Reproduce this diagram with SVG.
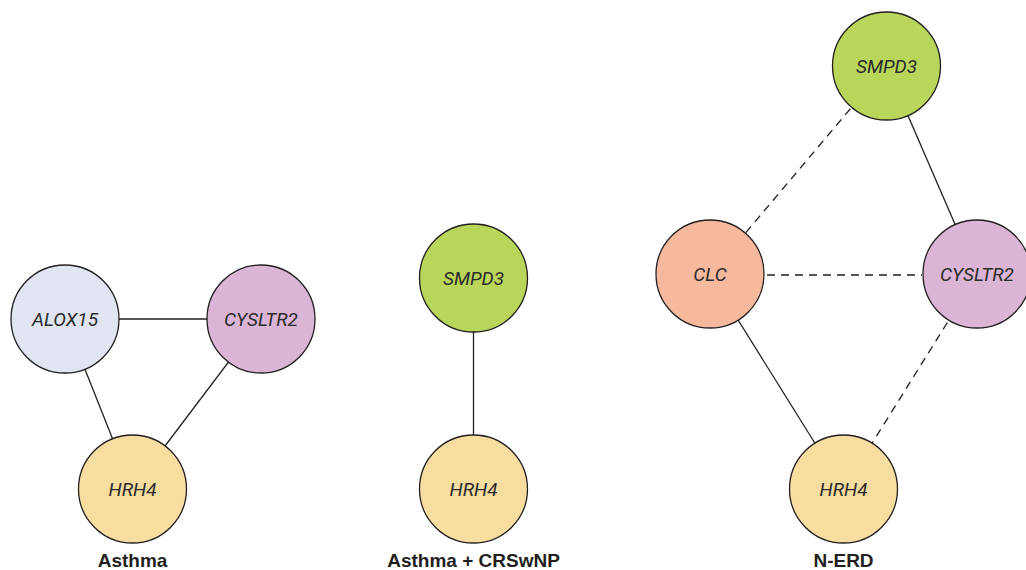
<svg xmlns="http://www.w3.org/2000/svg" width="1026" height="570" viewBox="0 0 1026 570">
<style>
.n{stroke:#231f20;stroke-width:1.3}
.t{font-family:Roboto,"Liberation Sans",Arial,sans-serif;font-style:italic;font-size:19px;fill:#2b2b2b;text-anchor:middle}
.lbl{font-family:"Liberation Sans",Arial,sans-serif;font-weight:bold;font-size:19px;fill:#231f20;text-anchor:middle}
.e{stroke:#231f20;stroke-width:1.3;fill:none}
.d{stroke-dasharray:8 6}
</style>
<rect width="1026" height="570" fill="#fff"/>
<g id="connectors">
<line class="e" x1="65" y1="319" x2="261" y2="319"/>
<line class="e" x1="65" y1="319" x2="132.5" y2="489"/>
<line class="e" x1="261" y1="319" x2="132.5" y2="489"/>
<line class="e" x1="473.5" y1="278" x2="473.5" y2="489"/>
<line class="e d" x1="886.5" y1="66" x2="710" y2="275"/>
<line class="e" x1="886.5" y1="66" x2="977" y2="275"/>
<line class="e d" x1="767" y1="275" x2="922" y2="275"/>
<line class="e" x1="710" y1="275" x2="843.5" y2="489"/>
<line class="e d" x1="977" y1="275" x2="843.5" y2="489"/>
</g>
<g id="asthma-alox15"><circle class="n" cx="65" cy="319" r="54" fill="#e1e5f1"/><text class="t" x="65" y="326">ALOX15</text></g>
<g id="asthma-cysltr2"><circle class="n" cx="261" cy="319" r="54" fill="#dab5d6"/><text class="t" x="261" y="326">CYSLTR2</text></g>
<g id="asthma-hrh4"><circle class="n" cx="132.5" cy="489" r="54" fill="#f7dd9f"/><text class="t" x="132.5" y="496">HRH4</text></g>
<g id="crswnp-smpd3"><circle class="n" cx="473.5" cy="278" r="54" fill="#bad65a"/><text class="t" x="473.5" y="285">SMPD3</text></g>
<g id="crswnp-hrh4"><circle class="n" cx="473.5" cy="489" r="54" fill="#f7dd9f"/><text class="t" x="473.5" y="496">HRH4</text></g>
<g id="nerd-smpd3"><circle class="n" cx="886.5" cy="66" r="54" fill="#bad65a"/><text class="t" x="886.5" y="73">SMPD3</text></g>
<g id="nerd-clc"><circle class="n" cx="710" cy="274" r="54" fill="#f7b99e"/><text class="t" x="710" y="281">CLC</text></g>
<g id="nerd-cysltr2"><circle class="n" cx="977" cy="274" r="54" fill="#dab5d6"/><text class="t" x="977" y="281">CYSLTR2</text></g>
<g id="nerd-hrh4"><circle class="n" cx="843.5" cy="489" r="54" fill="#f7dd9f"/><text class="t" x="843.5" y="496">HRH4</text></g>
<g id="labels">
<text class="lbl" x="132.5" y="567">Asthma</text>
<text class="lbl" x="473.5" y="567">Asthma + CRSwNP</text>
<text class="lbl" x="843.5" y="567">N-ERD</text>
</g>
</svg>
